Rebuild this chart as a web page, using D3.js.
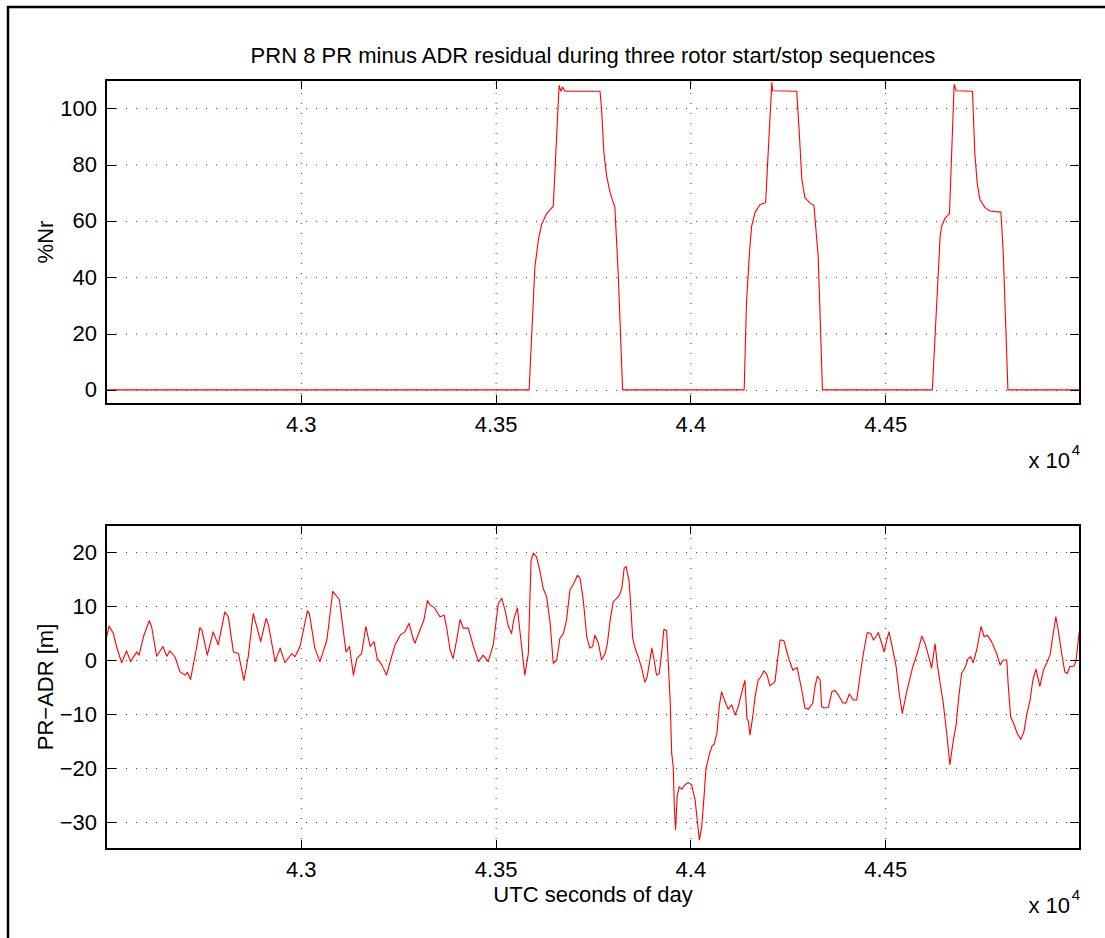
<!DOCTYPE html>
<html>
<head>
<meta charset="utf-8">
<script src="https://cdn.jsdelivr.net/npm/d3@7"></script>
<style>
body { margin: 0; background: #fff; }
svg { display: block; }
text { font-family: "Liberation Sans", Arial, Helvetica, sans-serif; fill: #000; }
</style>
</head>
<body>
<svg id="fig"></svg>
<script>
// tick values and labels
var xTicks = [43000, 43500, 44000, 44500]
var xTickLabels = ["4.3", "4.35", "4.4", "4.45"]
var nrTicks = [0, 20, 40, 60, 80, 100]
var resTicks = [-30, -20, -10, 0, 10, 20]

// %Nr (rotor speed)
var nrTime = [42500, 43586, 43601, 43610, 43618, 43631, 43648, 43663, 43668, 43672, 43678, 43768,
  43772, 43778, 43785, 43794, 43802, 43806, 43815, 43826,
  44138, 44144, 44151, 44157, 44166, 44179, 44193, 44209, 44211, 44273, 44280, 44286, 44294,
  44307, 44317, 44328, 44339,
  44621, 44641, 44645, 44654, 44665, 44677, 44682, 44724, 44730, 44736, 44743, 44756, 44769,
  44797, 44803, 44815, 45000]
var nrValue = [0, 0, 43.9, 53.4, 58.7, 62.6, 65.2, 108, 106, 107.5, 106, 106,
  99.6, 84.2, 75.9, 70, 66.4, 65.2, 40.3, 0,
  0, 31, 47.4, 58, 63, 65.8, 66.4, 109.1, 106.2, 106, 90, 74.7, 68.2,
  66.4, 65.5, 47.4, 0,
  0, 54.6, 58.1, 61.1, 62.6, 108.5, 106.2, 106, 84.2, 73.5, 67.6, 64.7, 63.5,
  63.1, 48.6, 0, 0]

// PR minus ADR residual [m]
var resTime = [42500, 42508, 42519, 42527, 42540, 42553, 42563, 42579, 42585, 42596, 42611, 42617,
  42630, 42646, 42656, 42664, 42677, 42690, 42703, 42709, 42717, 42733, 42741, 42746, 42760,
  42775, 42788, 42805, 42814, 42827, 42840, 42854, 42865, 42878, 42897, 42911, 42917, 42934,
  42947, 42959, 42977, 42985, 42998, 43017, 43022, 43036, 43049, 43067, 43082, 43099, 43116,
  43125, 43135, 43144, 43156, 43167, 43178, 43188, 43196, 43208, 43220, 43233, 43242, 43255,
  43267, 43278, 43287, 43293, 43306, 43316, 43325, 43332, 43344, 43357, 43368, 43374, 43383,
  43391, 43400, 43409, 43417, 43430, 43443, 43456, 43468, 43481, 43494, 43507, 43516, 43524,
  43533, 43541, 43547, 43556, 43564, 43575, 43584, 43591, 43597, 43605, 43614, 43622, 43631,
  43640, 43648, 43657, 43665, 43674, 43682, 43691, 43701, 43710, 43717, 43725, 43734, 43742,
  43749, 43755, 43764, 43772, 43781, 43787, 43794, 43802, 43811, 43818, 43824, 43830, 43835,
  43843, 43852, 43858, 43866, 43875, 43883, 43889, 43901, 43907, 43913, 43920, 43926, 43932,
  43939, 43948, 43952, 43956, 43959, 43962, 43966, 43971, 43978, 43986, 43995, 44003, 44012,
  44018, 44023, 44029, 44035, 44040, 44049, 44055, 44061, 44068, 44074, 44080, 44089, 44097,
  44106, 44115, 44123, 44129, 44136, 44140, 44145, 44149, 44153, 44160, 44166, 44174, 44180,
  44189, 44197, 44204, 44217, 44230, 44240, 44251, 44263, 44274, 44286, 44294, 44303, 44314,
  44320, 44326, 44333, 44337, 44343, 44354, 44363, 44371, 44380, 44391, 44399, 44408, 44418,
  44427, 44435, 44444, 44454, 44463, 44470, 44476, 44482, 44491, 44497, 44504, 44510, 44517,
  44528, 44536, 44544, 44555, 44571, 44582, 44594, 44602, 44613, 44619, 44628, 44634, 44641,
  44649, 44658, 44666, 44675, 44682, 44688, 44696, 44705, 44713, 44719, 44726, 44735, 44746,
  44754, 44762, 44773, 44786, 44795, 44803, 44812, 44816, 44822, 44831, 44839, 44848, 44856,
  44863, 44872, 44879, 44887, 44897, 44906, 44915, 44923, 44930, 44938, 44944, 44953, 44961,
  44967, 44974, 44985, 44990, 44998, 45000]
var resValue = [3.7, 6.3, 4.9, 2.5, -0.5, 1.7, -0.3, 1.5, 0.9, 4.3, 7.3, 6.2,
  0.7, 2.5, 0.7, 1.7, 0.6, -2.2, -2.8, -2.3, -3.6, 2.5, 6.0, 5.6, 0.9,
  5.2, 2.8, 8.9, 8.0, 1.5, 1.2, -3.8, 0.6, 8.6, 3.4, 7.7, 6.5, -0.3,
  2.2, -0.5, 1.2, 0.6, 2.5, 9.1, 8.6, 2.2, -0.3, 3.7, 12.7, 11.2, 1.5,
  2.5, -2.8, 0.3, 1.2, 6.2, 2.5, 3.4, 0.3, -0.9, -2.8, 0.6, 2.8, 4.6,
  5.2, 6.8, 4.3, 3.1, 5.6, 7.4, 11.0, 10.2, 9.6, 8.0, 8.3, 6.2, 1.9,
  0.3, 3.7, 7.5, 5.9, 5.9, 2.5, -0.3, 0.9, -0.3, 2.8, 10.5, 11.4, 9.3,
  6.2, 4.9, 7.7, 9.6, 4.3, -2.8, 1.2, 18.5, 19.8, 19.1, 16.4, 13.3, 11.7,
  6.8, -0.6, 0, 4.0, 4.9, 7.4, 13.0, 14.2, 15.7, 15.1, 11.1, 4.3, 2.2,
  2.5, 4.6, 3.1, 0, 1.2, 3.1, 7.4, 10.8, 11.4, 12.0, 13.3, 17.0, 17.3,
  14.5, 4.0, 2.2, 0.6, -1.5, -4.1, -3.1, 2.2, 0, -2.8, -2.5, 1.2, 5.7,
  5.4, -7.4, -17.3, -19.8, -27.8, -31.4, -25.3, -23.5, -23.9, -23.1, -22.7, -23.1, -25.9,
  -29.9, -33.3, -30.9, -25.3, -20.1, -17.4, -16.0, -15.6, -13.6, -8.6, -5.9, -7.7, -9.1,
  -8.3, -10.2, -8.6, -6.8, -4.8, -3.8, -10.8, -11.4, -13.9, -10.5, -6.8, -3.7, -3.2,
  -2.0, -2.8, -4.8, -4.0, 3.7, 3.6, 0.6, -1.9, -1.4, -5.6, -8.9, -9.1, -8.0,
  -4.9, -3.0, -3.7, -8.6, -8.9, -8.8, -5.9, -5.6, -6.5, -7.9, -8.0, -6.3, -7.4,
  -7.4, -3.1, 1.2, 5.1, 4.9, 3.7, 4.3, 5.1, 3.1, 1.5, 3.7, 5.2, 2.8,
  -1.2, -6.2, -9.9, -5.9, -1.2, 1.2, 4.4, 3.1, 0.3, -1.5, 3.0, -0.9, -4.3,
  -8.0, -13.6, -19.4, -14.8, -12.0, -7.4, -2.5, -1.4, 0.3, 0.6, -0.5, 1.9, 6.2,
  4.3, 4.6, 3.4, 1.2, -0.9, 0, 0, -4.9, -10.5, -12.0, -13.6, -14.7, -13.3,
  -10.2, -7.4, -3.7, -1.7, -4.9, -1.9, -0.5, 0.9, 4.3, 8.0, 5.6, 1.2, -2.2,
  -2.5, -1.2, -1.1, 0, 5.2, 4.8]

var W = 1105, H = 938
var fs = 22

var svg = d3.select("#fig").attr("width", W).attr("height", H)
svg.append("rect").attr("width", W).attr("height", H).attr("fill", "#fff")

// figure frame (only top and left edges are in view)
svg.append("path")
  .attr("d", "M8," + H + "V7H" + W)
  .attr("fill", "none").attr("stroke", "#000").attr("stroke-width", 2.5)

function fmtMinus(d) { return d < 0 ? "\u2212" + Math.abs(d) : "" + d }

function drawPanel(dim, yDomain, yTicks, tData, vData, ylabel, id) {
  var x = d3.scaleLinear().domain([42500, 45000]).range([dim.l, dim.r])
  var y = d3.scaleLinear().domain(yDomain).range([dim.b, dim.t])
  var w = dim.r - dim.l, h = dim.b - dim.t
  var g = svg.append("g")

  // dotted grid
  var gx = g.append("g").attr("transform", "translate(0," + dim.b + ")")
    .call(d3.axisBottom(x).tickValues(xTicks).tickSize(-h).tickFormat(""))
  var gy = g.append("g").attr("transform", "translate(" + dim.l + ",0)")
    .call(d3.axisLeft(y).tickValues(yTicks).tickSize(-w).tickFormat(""))
  ;[gx, gy].forEach(function(s) {
    s.select(".domain").remove()
    s.selectAll("line").attr("stroke", "#000").attr("stroke-width", 1)
      .attr("stroke-dasharray", "1,9").attr("opacity", 0.75)
  })

  // data line
  g.append("clipPath").attr("id", id).append("rect")
    .attr("x", dim.l).attr("y", dim.t).attr("width", w).attr("height", h)
  var pts = tData.map(function(t, i) { return [t, vData[i]] })
  g.append("path")
    .datum(pts)
    .attr("clip-path", "url(#" + id + ")")
    .attr("fill", "none")
    .attr("stroke", "#ff0000")
    .attr("stroke-width", 1.1)
    .attr("stroke-linejoin", "round")
    .attr("d", d3.line().x(function(d) { return x(d[0]) }).y(function(d) { return y(d[1]) }))

  // inward ticks on all four sides
  var ab = g.append("g").attr("transform", "translate(0," + dim.b + ")")
    .call(d3.axisBottom(x).tickValues(xTicks).tickSize(-9).tickPadding(12)
      .tickFormat(function(d, i) { return xTickLabels[i] }))
  var at = g.append("g").attr("transform", "translate(0," + dim.t + ")")
    .call(d3.axisTop(x).tickValues(xTicks).tickSize(-9).tickFormat(""))
  var al = g.append("g").attr("transform", "translate(" + dim.l + ",0)")
    .call(d3.axisLeft(y).tickValues(yTicks).tickSize(-10).tickPadding(9).tickFormat(fmtMinus))
  var ar = g.append("g").attr("transform", "translate(" + dim.r + ",0)")
    .call(d3.axisRight(y).tickValues(yTicks).tickSize(-10).tickFormat(""))
  ;[ab, at, al, ar].forEach(function(s) {
    s.select(".domain").remove()
    s.selectAll("line").attr("stroke", "#000").attr("shape-rendering", "crispEdges")
    s.selectAll("text").style("font-size", fs + "px").attr("font-family", null).attr("fill", "#000")
  })

  // box
  g.append("rect")
    .attr("x", dim.l).attr("y", dim.t).attr("width", w).attr("height", h)
    .attr("fill", "none").attr("stroke", "#000").attr("stroke-width", 1.3)
    .attr("shape-rendering", "crispEdges")

  // y label
  g.append("text")
    .attr("transform", "translate(" + (dim.l - 53) + "," + ((dim.t + dim.b) / 2) + ")rotate(-90)")
    .attr("text-anchor", "middle")
    .style("font-size", fs + "px")
    .text(ylabel)

  // x 10^4 multiplier
  g.append("text").attr("x", dim.r - 10).attr("y", dim.b + 64)
    .attr("text-anchor", "end").style("font-size", fs + "px").text("x 10")
  g.append("text").attr("x", dim.r).attr("y", dim.b + 51)
    .attr("text-anchor", "end").style("font-size", "15px").text("4")

  return { x: x, y: y }
}

var top1 = drawPanel({ l: 106, r: 1080, t: 80, b: 404 }, [-5, 110], nrTicks, nrTime, nrValue, "%Nr", "clipTop")
var bot1 = drawPanel({ l: 106, r: 1080, t: 525, b: 849 }, [-35, 25], resTicks, resTime, resValue, "PR\u2212ADR [m]", "clipBot")

// title and x label
svg.append("text").attr("x", 593).attr("y", 63).attr("text-anchor", "middle")
  .style("font-size", fs + "px")
  .text("PRN 8 PR minus ADR residual during three rotor start/stop sequences")
svg.append("text").attr("x", 593).attr("y", 902).attr("text-anchor", "middle")
  .style("font-size", fs + "px")
  .text("UTC seconds of day")
</script>
</body>
</html>
